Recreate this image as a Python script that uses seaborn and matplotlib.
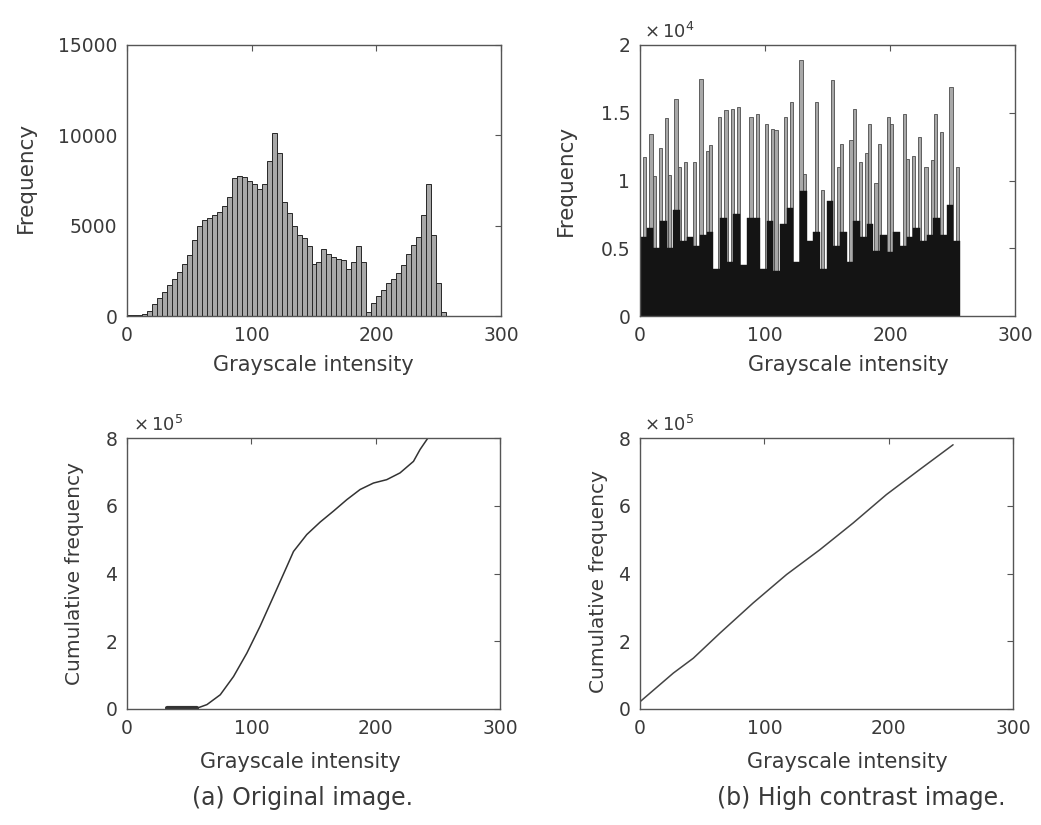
import numpy as np
import pandas as pd
import matplotlib
matplotlib.use('Agg')
import matplotlib.pyplot as plt
import seaborn as sns

# original image histogram (bins of 4 grey levels, centre values)
orig_centers = list(range(2, 256, 4))
orig_counts = [80, 60, 50, 100, 300, 650, 1000, 1350, 1700, 2050, 2450, 2900, 3400, 4200, 5000, 5300,
               5450, 5600, 5750, 6100, 6600, 7650, 7750, 7700, 7500, 7300, 7050, 7300, 8600, 10150, 9000, 6300,
               5700, 5000, 4500, 4300, 3900, 2900, 3000, 3700, 3450, 3250, 3150, 3100, 2600, 3000, 3900, 3000,
               200, 700, 1100, 1450, 1800, 2050, 2400, 2800, 3450, 3950, 4400, 5600, 7300, 4500, 1800, 200]

# high contrast histogram: tall grey spikes and dark base
spike_x = [2.7, 7.5, 12, 16.5, 20, 24, 27.5, 32, 37.3, 44, 48.5, 52.5, 56.5, 63.2, 67.5, 73.3, 79.2, 88,
           92.8, 100.5, 105.3, 109.3, 116.5, 120, 128.5, 132, 140.8, 145.3, 153.3, 158.1, 161.3, 168, 172,
           176, 180, 184.8, 189.3, 192, 198.7, 202.1, 210.1, 214.7, 218.7, 222.7, 229.3, 233.3, 237.3,
           241.3, 249.3, 254.7]
spike_y = [11700, 13400, 10300, 12400, 14600, 10400, 16000, 11000, 11400, 11400, 17500, 12200, 12600, 14700,
           15200, 15300, 15400, 14700, 14900, 14200, 13800, 13700, 14700, 15800, 18900, 10500, 15800, 9300,
           17400, 11000, 12700, 13000, 15300, 11400, 12000, 14200, 9800, 12700, 14700, 14200, 14900, 11600,
           11800, 13200, 11000, 11500, 14900, 13600, 16900, 11000]
base_x = [2.7, 8.0, 13.3, 18.7, 24.0, 29.3, 34.7, 40.0, 45.3, 50.7, 56.0, 61.3, 66.7, 72.0, 77.3, 82.7,
          88.0, 93.3, 98.7, 104.0, 109.3, 114.7, 120.0, 125.3, 130.7, 136.0, 141.3, 146.7, 152.0, 157.3,
          162.7, 168.0, 173.3, 178.7, 184.0, 189.3, 194.7, 200.0, 205.3, 210.7, 216.0, 221.3, 226.7, 232.0,
          237.3, 242.7, 248.0, 253.3]
base_y = [5800, 6500, 5000, 7000, 5000, 7800, 5500, 5800, 5200, 6000, 6200, 3500, 7200, 4000, 7500, 3800,
          7200, 7200, 3500, 7000, 3300, 6800, 8000, 4000, 9200, 5500, 6200, 3500, 8500, 5200, 6200, 4000,
          7000, 5800, 6800, 4800, 6000, 4700, 6200, 5200, 5800, 6500, 5500, 6000, 7200, 6000, 8200, 5500]

# cumulative curves (x 1e5)
cum_a_x = [32, 56, 64.3, 75, 85.7, 96.4, 107, 117.9, 128.6, 133.9, 144.6, 155.4, 166, 176.8, 187.5,
           198.2, 208.9, 219.6, 230.4, 235.7, 241.1, 246, 255]
cum_a_y = [0.02, 0.02, 0.13, 0.42, 0.96, 1.65, 2.44, 3.33, 4.21, 4.65, 5.15, 5.52, 5.84, 6.18, 6.48,
           6.67, 6.77, 6.97, 7.31, 7.66, 7.95, 8.2, 8.4]
cum_b_x = [0.5, 26.8, 42.9, 64.3, 91, 117.9, 144.6, 171.4, 198.2, 225, 251.8]
cum_b_y = [0.23, 1.06, 1.5, 2.24, 3.13, 3.97, 4.7, 5.49, 6.33, 7.07, 7.8]

sns.set_theme(style='white')
plt.rcParams['font.family'] = ['DejaVu Sans']
plt.rcParams['mathtext.fontset'] = 'dejavusans'
txt = '#3a3a3a'

fig = plt.figure(figsize=(10.41, 8.25), dpi=100)
W, H = 1041, 825


def make_ax(l, r, t, b):
    ax = fig.add_axes([l / W, 1 - b / H, (r - l) / W, (b - t) / H])
    for s in ax.spines.values():
        s.set_color('#555555')
        s.set_linewidth(1.0)
    ax.tick_params(direction='in', length=4, width=0.8, colors='#555555', labelcolor=txt,
                   labelsize=13.5, top=True, right=True, pad=7)
    ax.set_xlim(0, 300)
    ax.set_xticks([0, 100, 200, 300])
    return ax


ax1 = make_ax(127, 501, 45, 316)
ax2 = make_ax(640, 1015, 45, 316)
ax3 = make_ax(127, 500, 438, 709)
ax4 = make_ax(640, 1013, 438, 709)

df_orig = pd.DataFrame({'level': orig_centers, 'count': orig_counts})
df_spike = pd.DataFrame({'level': spike_x, 'count': spike_y})
df_base = pd.DataFrame({'level': base_x, 'count': base_y})

# (a) histogram
sns.histplot(data=df_orig, x='level', weights='count', binwidth=4, binrange=(0, 256), ax=ax1,
             color='0.66', edgecolor='0.15', linewidth=0.7, alpha=1)
ax1.set_ylim(0, 15000)
ax1.set_yticks([0, 5000, 10000, 15000])

# (b) histogram
sns.histplot(data=df_spike, x='level', weights='count', binwidth=2.5, binrange=(0, 257.5), ax=ax2,
             color='0.66', edgecolor='0.3', linewidth=0.6, alpha=1)
sns.histplot(data=df_base, x='level', weights='count', binwidth=256 / 48, binrange=(0, 256), ax=ax2,
             color='0.08', edgecolor='0.08', linewidth=0.3, alpha=1)
ax2.set_ylim(0, 20000)
ax2.set_yticks([0, 5000, 10000, 15000, 20000])
ax2.set_yticklabels(['0', '0.5', '1', '1.5', '2'])

# cumulative
sns.lineplot(x=cum_a_x, y=cum_a_y, ax=ax3, color='#333333', linewidth=1.1)
sns.lineplot(x=cum_a_x[:2], y=cum_a_y[:2], ax=ax3, color='#333333', linewidth=3)
sns.lineplot(x=cum_b_x, y=cum_b_y, ax=ax4, color='#444444', linewidth=1.1)
for ax in (ax3, ax4):
    ax.set_ylim(0, 8)
    ax.set_yticks([0, 2, 4, 6, 8])

# axis labels
xl_pos = {ax1: (0.497, -0.145), ax2: (0.556, -0.145), ax3: (0.466, -0.16), ax4: (0.556, -0.16)}
for ax, (px, py) in xl_pos.items():
    ax.set_xlabel('Grayscale intensity', fontsize=15, color=txt)
    ax.xaxis.set_label_coords(px, py)

ax1.set_ylabel('Frequency', fontsize=15.5, color=txt)
ax1.yaxis.set_label_coords(-0.243, 0.51)
ax2.set_ylabel('Frequency', fontsize=15.5, color=txt)
ax2.yaxis.set_label_coords(-0.171, 0.50)
ax3.set_ylabel('Cumulative frequency', fontsize=14.5, color=txt)
ax3.yaxis.set_label_coords(-0.115, 0.50)
ax4.set_ylabel('Cumulative frequency', fontsize=14.5, color=txt)
ax4.yaxis.set_label_coords(-0.086, 0.47)

ax2.text(0.01, 1.01, r'$\times\,10^4$', transform=ax2.transAxes, fontsize=13, color=txt, va='bottom')
ax3.text(0.015, 1.01, r'$\times\,10^5$', transform=ax3.transAxes, fontsize=13, color=txt, va='bottom')
ax4.text(0.01, 1.01, r'$\times\,10^5$', transform=ax4.transAxes, fontsize=13, color=txt, va='bottom')

fig.text(302 / W, 1 - 798 / H, '(a) Original image.', fontsize=17, color=txt,
         ha='center', va='center')
fig.text(861 / W, 1 - 798 / H, '(b) High contrast image.', fontsize=17, color=txt,
         ha='center', va='center')

fig.savefig('out.png', dpi=100, facecolor='white')
